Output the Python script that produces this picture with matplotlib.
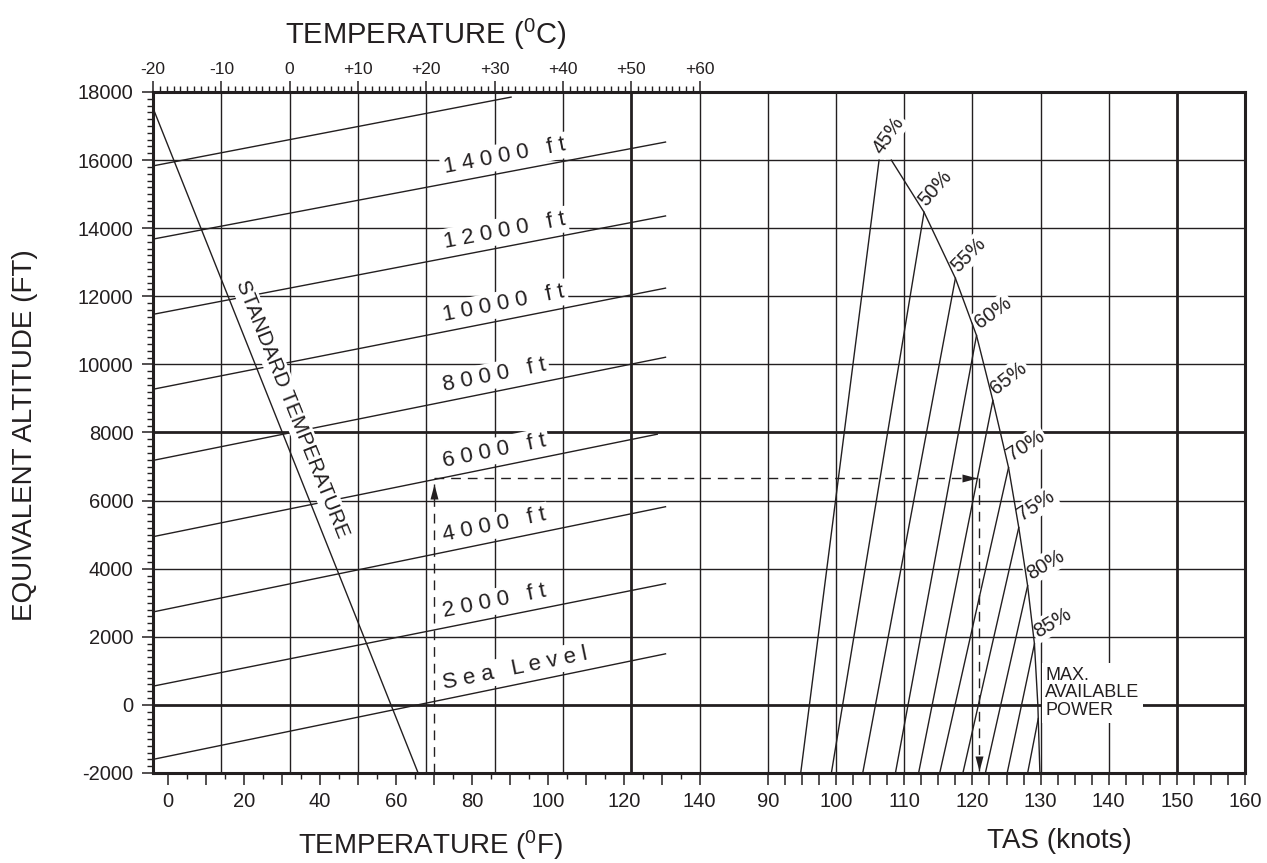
import numpy as np
import matplotlib
matplotlib.use('Agg')
import matplotlib.pyplot as plt
from matplotlib.ticker import FixedLocator, MultipleLocator

plt.rcParams['font.family'] = 'Liberation Sans'
plt.rcParams['mathtext.fontset'] = 'custom'
plt.rcParams['mathtext.rm'] = 'Liberation Sans'
plt.rcParams['axes.unicode_minus'] = False

INK = '#231f20'

# pressure altitude lines: temperature (deg C) at both ends and equivalent altitude (ft)
alt_names = ['Sea Level', '2000 ft', '4000 ft', '6000 ft', '8000 ft',
             '10000 ft', '12000 ft', '14000 ft', '']
alt_t0 = [-20, -20, -20, -20, -20, -20, -20, -20, -20]
alt_t1 = [55, 55, 55, 53.8, 55, 55, 55, 55, 32.4]
alt_y0 = [-1600, 550, 2730, 4940, 7180, 9270, 11470, 13680, 15830]
alt_y1 = [1500, 3560, 5820, 7950, 10210, 12240, 14360, 16530, 17850]

# standard temperature line
std_t = [-20, 18.8]
std_y = [17530, -2000]

# percent power lines in the TAS panel
pct_names = ['45%', '50%', '55%', '60%', '65%', '70%', '75%', '80%', '85%', '']
pct_bottom_kt = [94.8, 99.3, 103.9, 108.7, 112.1, 115.2, 118.6, 121.9, 125.1, 128.1]
pct_top_kt = [106.3, 112.9, 117.5, 120.6, 123.0, 125.3, 126.8, 128.1, 129.1, 129.66]
pct_top_ft = [16000, 14470, 12530, 10850, 8940, 6970, 5210, 3500, 1790, -400]

# max available power curve
max_kt = [108.1, 112.9, 117.5, 120.6, 123.0, 125.3, 126.8, 128.1, 129.1, 129.6, 129.9]
max_ft = [16000, 14470, 12530, 10850, 8940, 6970, 5210, 3500, 1790, 0, -2000]

# worked example
ex_temp_f = 70
ex_alt = 6650
ex_tas = 121

top_ticks_c = [-20, -10, 0, 10, 20, 30, 40, 50, 60]
top_labels = ['-20', '-10', '0', '+10', '+20', '+30', '+40', '+50', '+60']


def c2f(c):
    return np.asarray(c) * 9.0 / 5.0 + 32


def f2c(f):
    return (np.asarray(f) - 32) * 5.0 / 9.0


def spaced(s):
    return ' '.join(s)


def screen_angle(ax, x0, y0, x1, y1):
    p = ax.transData.transform([(x0, y0), (x1, y1)])
    return np.degrees(np.arctan2(p[1, 1] - p[0, 1], p[1, 0] - p[0, 0]))


W, H = 1267, 863
fig = plt.figure(figsize=(W / 100, H / 100), dpi=100)
ax1 = fig.add_axes([153 / W, 1 - 773 / H, (768 - 153) / W, (773 - 92) / H])
ax2 = fig.add_axes([768 / W, 1 - 773 / H, (1245 - 768) / W, (773 - 92) / H])

for ax in (ax1, ax2):
    ax.set_ylim(-2000, 18000)
    for s in ax.spines.values():
        s.set_linewidth(2.2)
        s.set_color(INK)
        s.set_capstyle('projecting')
    for y in range(0, 18000, 2000):
        ax.axhline(y, color=INK, lw=2.0 if y in (0, 8000) else 1.0, zorder=1)
ax1.set_xlim(-20, 70)
ax2.set_xlim(90, 160)
ax1.spines['right'].set_visible(False)
ax2.spines['left'].set_visible(False)

for x in range(-10, 70, 10):
    ax1.axvline(x, color=INK, lw=2.0 if x == 50 else 1.0, zorder=1)
ax2.axvline(90, color=INK, lw=1.0, zorder=1, clip_on=False)
for x in range(100, 160, 10):
    ax2.axvline(x, color=INK, lw=2.0 if x == 150 else 1.0, zorder=1)

# left axis ticks
ax1.yaxis.set_major_locator(FixedLocator(range(-2000, 18001, 2000)))
ax1.yaxis.set_minor_locator(MultipleLocator(200))
ax1.tick_params(axis='y', which='major', length=8, width=1.1, pad=6,
                labelsize=14.5, colors=INK)
ax1.tick_params(axis='y', which='minor', length=4.3, width=1.0, colors=INK)

# top celsius ticks
ax1.xaxis.tick_top()
ax1.xaxis.set_major_locator(FixedLocator(top_ticks_c))
ax1.xaxis.set_minor_locator(FixedLocator(range(-20, 61)))
ax1.set_xticklabels(top_labels)
ax1.tick_params(axis='x', which='major', length=8, width=1.1, pad=3,
                labelsize=12.5, colors=INK)
ax1.tick_params(axis='x', which='minor', length=4, width=1.0, colors=INK)

# bottom fahrenheit ticks
secf = ax1.secondary_xaxis('bottom', functions=(c2f, f2c))
secf.set_xticks(range(0, 141, 10))
secf.set_xticklabels([str(v) if v % 20 == 0 else '' for v in range(0, 141, 10)])
secf.xaxis.set_minor_locator(FixedLocator(range(5, 140, 10)))
secf.tick_params(axis='x', which='major', length=8.6, width=1.1, pad=5,
                 labelsize=14.5, colors=INK)
secf.tick_params(axis='x', which='minor', length=4.3, width=1.0, colors=INK)
secf.spines['bottom'].set_visible(False)

# TAS ticks
ax2.tick_params(left=False, labelleft=False, top=False, labeltop=False)
tas_ticks = np.arange(90, 160.1, 2.5)
ax2.xaxis.set_major_locator(FixedLocator(tas_ticks))
ax2.set_xticklabels([str(int(v)) if v % 10 == 0 else '' for v in tas_ticks])
ax2.tick_params(axis='x', which='major', length=8.6, width=1.1, pad=5,
                labelsize=14.5, colors=INK)

# altitude lines and their labels
label_c = 22.8
for name, t0, t1, y0, y1 in zip(alt_names, alt_t0, alt_t1, alt_y0, alt_y1):
    ax1.plot([t0, t1], [y0, y1], color=INK, lw=1.0, zorder=3)
    if name:
        yl = np.interp(label_c, [t0, t1], [y0, y1])
        ang = screen_angle(ax1, t0, y0, t1, y1)
        ax1.annotate(spaced(name), xy=(label_c, yl), xytext=(0, 4),
                     textcoords='offset points', rotation=ang,
                     rotation_mode='anchor', ha='left', va='bottom',
                     fontsize=16, color=INK, zorder=2,
                     bbox=dict(boxstyle='square,pad=0.12', fc='white', ec='none'))

# standard temperature line
ax1.plot(std_t, std_y, color=INK, lw=1.0, zorder=3)
ang = screen_angle(ax1, std_t[0], std_y[0], std_t[1], std_y[1])
a = np.radians(ang)
mid_y = 8500
mid_t = np.interp(mid_y, std_y[::-1], std_t[::-1])
ax1.annotate('STANDARD TEMPERATURE', xy=(mid_t, mid_y),
             xytext=(-13 * np.sin(a), 13 * np.cos(a)), textcoords='offset points',
             rotation=ang, rotation_mode='anchor', ha='center', va='center',
             fontsize=15, color=INK, zorder=4,
             bbox=dict(boxstyle='square,pad=0.1', fc='white', ec='none'))

# percent power lines
pct_rot = [55, 49, 45, 36, 38, 33, 33, 31, 31, 0]
for name, b, tk, tf, rot in zip(pct_names, pct_bottom_kt, pct_top_kt, pct_top_ft, pct_rot):
    ax2.plot([b, tk], [-2000, tf], color=INK, lw=1.0, zorder=3)
    if name:
        ax2.annotate(name, xy=(tk, tf), xytext=(4, 2), textcoords='offset points',
                     rotation=rot, rotation_mode='anchor', ha='left', va='bottom',
                     fontsize=14.5, color=INK, zorder=2,
                     bbox=dict(boxstyle='square,pad=0.1', fc='white', ec='none'))
ax2.plot(max_kt, max_ft, color=INK, lw=1.0, zorder=3)
ax2.text(130.7, 350, 'MAX.\nAVAILABLE\nPOWER', ha='left', va='center',
         fontsize=13, linespacing=1.05, color=INK, zorder=2,
         bbox=dict(boxstyle='square,pad=0.2', fc='white', ec='none'))

# worked example
ex_c = float(f2c(ex_temp_f))
dash = (0, (7, 5))
ax1.plot([ex_c, ex_c], [-2000, ex_alt - 150], ls=dash, lw=1.0, color=INK, zorder=3)
ax1.plot([ex_c, 70], [ex_alt, ex_alt], ls=dash, lw=1.0, color=INK, zorder=3)
ax2.plot([90, ex_tas], [ex_alt, ex_alt], ls=dash, lw=1.0, color=INK, zorder=3)
ax2.plot([ex_tas, ex_tas], [ex_alt, -2000], ls=dash, lw=1.0, color=INK, zorder=3)
up = [(0, 0), (-0.8, -3), (0.8, -3), (0, 0)]
right = [(0, 0), (-3, -0.8), (-3, 0.8), (0, 0)]
down = [(0, 0), (-0.8, 3), (0.8, 3), (0, 0)]
ax1.plot([ex_c], [ex_alt - 150], ls='none', marker=up, ms=21.6, color=INK, mew=0, zorder=4)
ax2.plot([ex_tas - 0.4], [ex_alt], ls='none', marker=right, ms=21.6, color=INK, mew=0, zorder=4)
ax2.plot([ex_tas], [-1950], ls='none', marker=down, ms=21.6, color=INK, mew=0, zorder=4)

# axis titles
fig.text(426 / W, 1 - 44 / H, r'TEMPERATURE ($\mathregular{^0}$C)', ha='center',
         va='baseline', fontsize=21, color=INK)
fig.text(431 / W, 1 - 854 / H, r'TEMPERATURE ($\mathregular{^0}$F)', ha='center',
         va='baseline', fontsize=20, color=INK)
fig.text(1059 / W, 1 - 848 / H, 'TAS (knots)', ha='center', va='baseline',
         fontsize=20, color=INK)
fig.text(25 / W, 1 - 435 / H, 'EQUIVALENT ALTITUDE (FT)', ha='center', va='center',
         rotation=90, fontsize=20, color=INK)

fig.savefig('out.png', dpi=100, facecolor='white')
